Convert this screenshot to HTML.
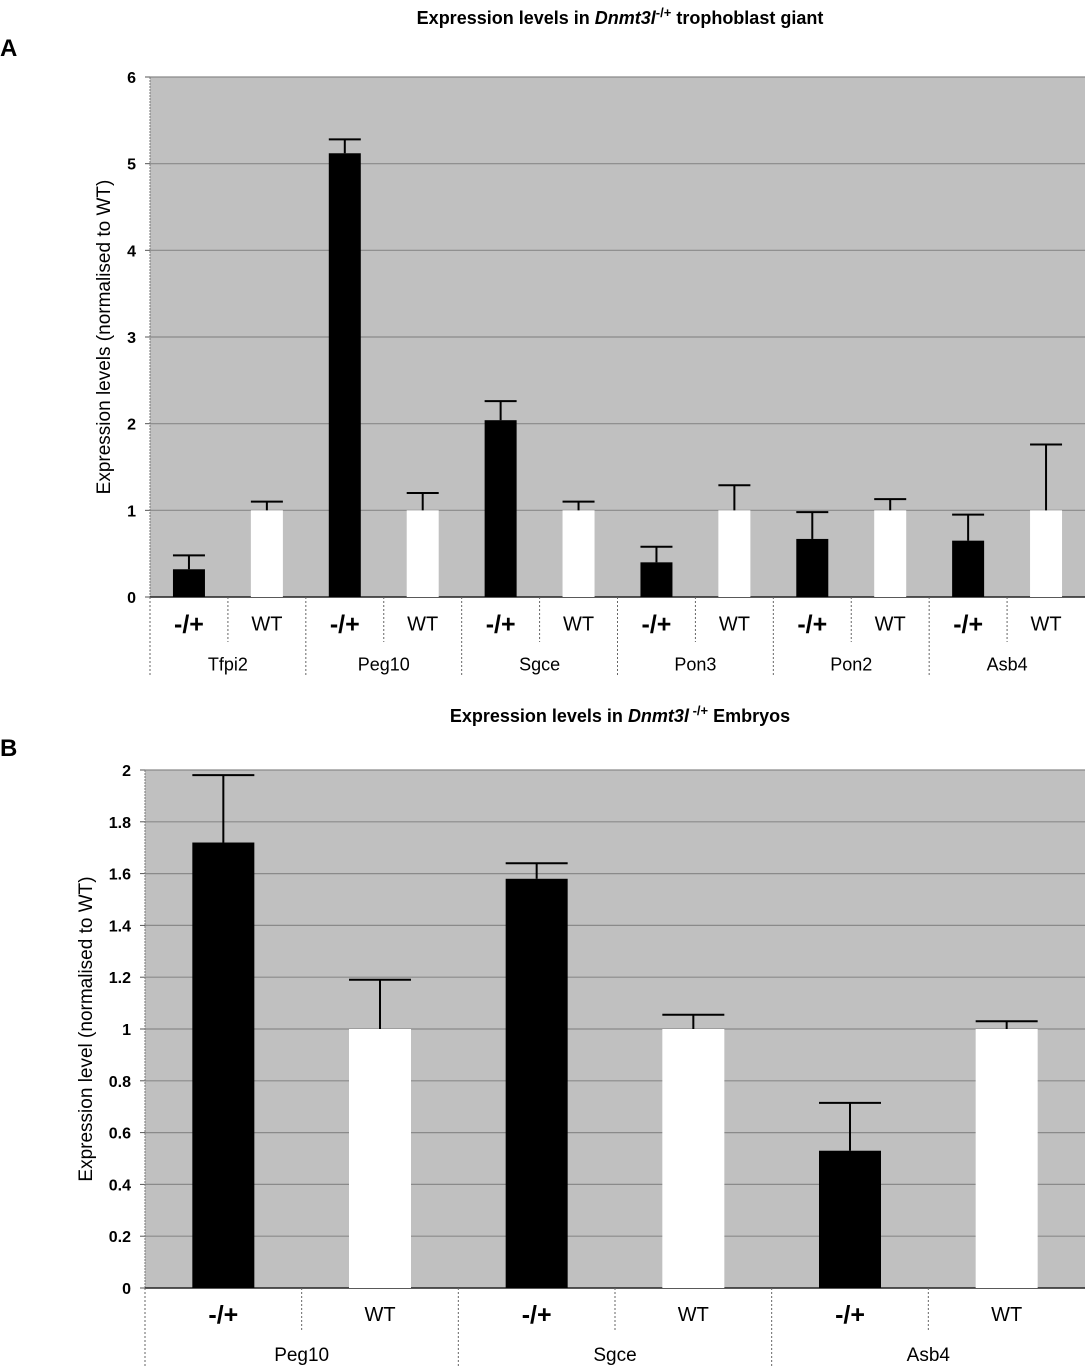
<!DOCTYPE html>
<html><head><meta charset="utf-8">
<style>
html,body{margin:0;padding:0;background:#fff;}
svg{display:block;font-family:"Liberation Sans",Arial,sans-serif;}
</style></head>
<body>
<svg id="fig" width="1085" height="1368" viewBox="0 0 1085 1368">
<text x="0" y="56" font-size="24" font-weight="bold">A</text>
<text x="620" y="24" font-size="18" font-weight="bold" text-anchor="middle">Expression levels in <tspan font-style="italic">Dnmt3l</tspan><tspan dy="-7" font-size="13">-/+</tspan><tspan dy="7"> trophoblast giant</tspan></text>
<text x="0" y="756" font-size="24" font-weight="bold">B</text>
<text x="620" y="722" font-size="18" font-weight="bold" text-anchor="middle">Expression levels in <tspan font-style="italic">Dnmt3l</tspan><tspan dy="-7" font-size="13"> -/+</tspan><tspan dy="7"> Embryos</tspan></text>
<g id="ga"></g>
<g id="gb"></g>
</svg>
<script>
// Chart A data
const genesA = ["Tfpi2","Peg10","Sgce","Pon3","Pon2","Asb4"];
const mutA = [0.32,5.12,2.04,0.40,0.67,0.65];
const mutErrA = [0.16,0.16,0.22,0.18,0.31,0.30];
const wtA = [1,1,1,1,1,1];
const wtErrA = [0.10,0.20,0.10,0.29,0.13,0.76];
const ticksA = [0,1,2,3,4,5,6];
// Chart B data
const genesB = ["Peg10","Sgce","Asb4"];
const mutB = [1.72,1.58,0.53];
const mutErrB = [0.26,0.06,0.185];
const wtB = [1,1,1];
const wtErrB = [0.19,0.055,0.03];
const ticksB = [0,0.2,0.4,0.6,0.8,1,1.2,1.4,1.6,1.8,2];

const NS="http://www.w3.org/2000/svg";
function mk(parent,tag,attrs,text){const e=document.createElementNS(NS,tag);for(const k in attrs)e.setAttribute(k,attrs[k]);if(text!==undefined)e.textContent=text;parent.appendChild(e);return e;}

function drawChart(g,cfg){
  const {left,right,top,bottom,ymax,ticks,genes,mut,mutErr,wt,wtErr,barW,yTitle,yTitleX,row1,row2,tickFmt,labelSize}=cfg;
  const y=v=>bottom-(v/ymax)*(bottom-top);
  const n=genes.length*2, colW=(right-left)/n;
  const cx=i=>left+colW*(i+0.5);
  const bg=mk(g,'rect',{x:left,y:top,width:right-left,height:bottom-top,fill:'#c0c0c0'});
  
  
  ticks.forEach(t=>{
    if(t>0){const l=mk(g,'line',{x1:left,x2:right,y1:y(t),y2:y(t),stroke:'#8a8a8a','stroke-width':1.2});
      
      }
    mk(g,'line',{x1:left-5,x2:left,y1:y(t),y2:y(t),stroke:'#555'});
    const tl=mk(g,'text',{x:left-14,y:y(t)+6,'font-size':16,'font-weight':'bold','text-anchor':'end'},tickFmt(t));
    
    
  });
  mk(g,'line',{x1:left,x2:left,y1:top,y2:bottom,stroke:'#777','stroke-dasharray':'2,1'});
  mk(g,'line',{x1:left,x2:right,y1:bottom,y2:bottom,stroke:'#222','stroke-width':1.5});
  const yt=mk(g,'text',{x:yTitleX,y:(top+bottom)/2,'font-size':19,'text-anchor':'middle',transform:`rotate(-90 ${yTitleX} ${(top+bottom)/2})`},yTitle);
  
  
  genes.forEach((gname,k)=>{
    [[mut[k],mutErr[k],'#000','-/+'],[wt[k],wtErr[k],'#fff','WT']].forEach((d,j)=>{
      const i=k*2+j, x=cx(i);
      const b=mk(g,'rect',{x:x-barW/2,y:y(d[0]),width:barW,height:bottom-y(d[0]),fill:d[2]});
      
      
      const top2=y(d[0]+d[1]);
      mk(g,'line',{x1:x,x2:x,y1:top2,y2:y(d[0]),stroke:'#000','stroke-width':2});
      const cap=mk(g,'line',{x1:x-barW/2,x2:x+barW/2,y1:top2,y2:top2,stroke:'#000','stroke-width':2});
      
      
      const lt=mk(g,'text',{x:x,y:bottom+(row1-bottom)/2+ (j?7:9),'font-size':j?20:25,'font-weight':j?'normal':'bold','text-anchor':'middle'},d[3]);
      
      
      if(j===0 && i>0) mk(g,'line',{x1:left+colW*i,x2:left+colW*i,y1:bottom,y2:row2,stroke:'#666','stroke-dasharray':'2,2'});
      if(j===1) mk(g,'line',{x1:left+colW*i,x2:left+colW*i,y1:bottom,y2:row1-8,stroke:'#666','stroke-dasharray':'2,2'});
    });
    const gl=mk(g,'text',{x:left+colW*(2*k+1),y:row1+(row2-row1)/2+7,'font-size':labelSize,'text-anchor':'middle'},gname);
    
    
  });
  mk(g,'line',{x1:left,x2:left,y1:bottom,y2:row2,stroke:'#666','stroke-dasharray':'2,2'});
}
drawChart(document.getElementById('ga'),{left:150,right:1085,top:77,bottom:597,ymax:6,ticks:ticksA,genes:genesA,mut:mutA,mutErr:mutErrA,wt:wtA,wtErr:wtErrA,barW:32,yTitle:'Expression levels (normalised to WT)',yTitleX:110,row1:650,row2:677,tickFmt:t=>String(t),labelSize:18});
drawChart(document.getElementById('gb'),{left:145,right:1085,top:770,bottom:1288,ymax:2,ticks:ticksB,genes:genesB,mut:mutB,mutErr:mutErrB,wt:wtB,wtErr:wtErrB,barW:62,yTitle:'Expression level (normalised to WT)',yTitleX:92,row1:1340,row2:1368,tickFmt:t=>String(+t.toFixed(1)),labelSize:19});
</script>
</body></html>
